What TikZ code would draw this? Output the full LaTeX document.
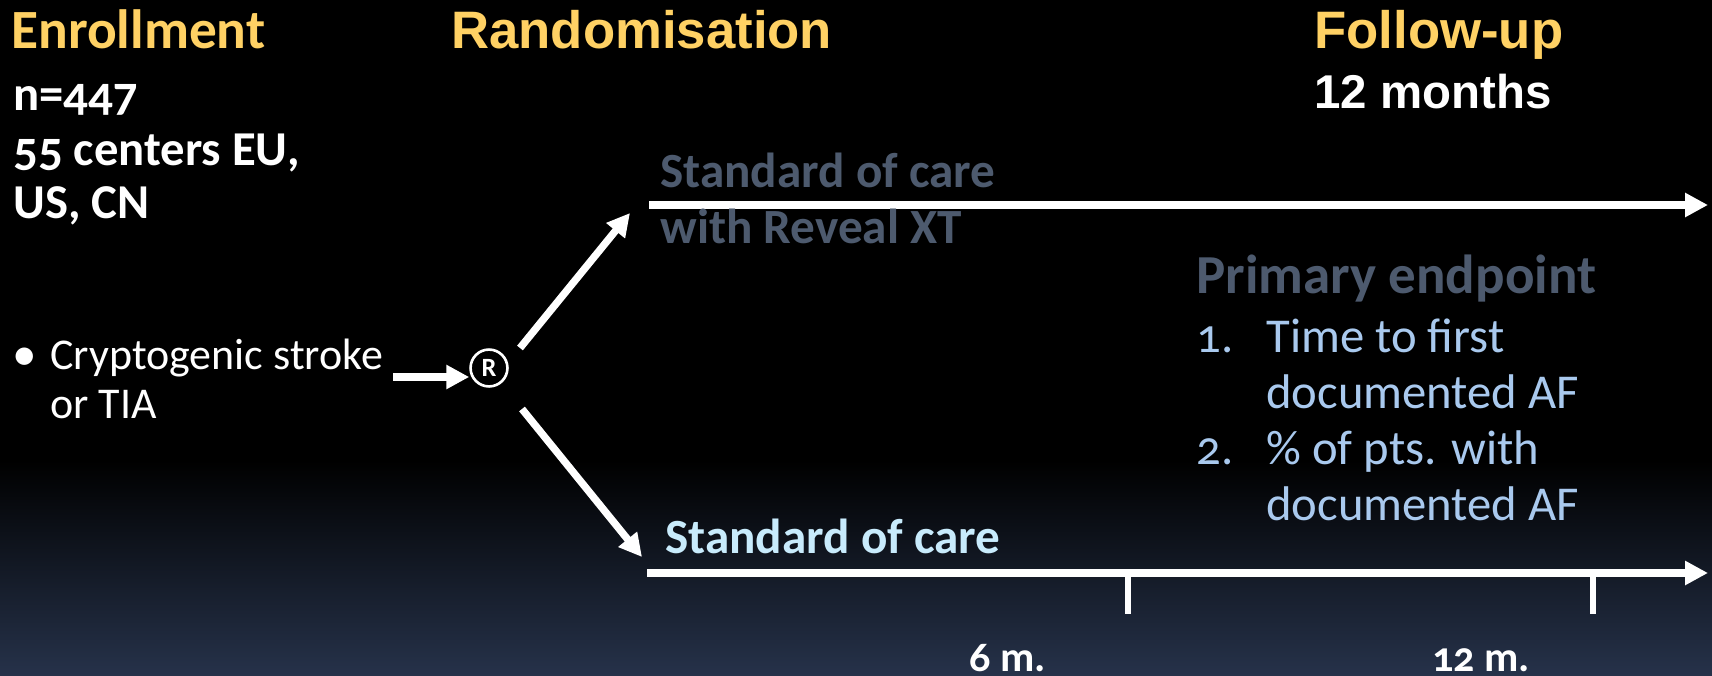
\documentclass[tikz,border=0pt]{standalone}
\usepackage{fontspec}
\setmainfont{Carlito}[Numbers=OldStyle]
\newfontfamily\arialfont{Liberation Sans}
\usetikzlibrary{arrows.meta}
\definecolor{headyellow}{HTML}{FFD164}
\definecolor{armgrey}{HTML}{4D5A6E}
\definecolor{armblue}{HTML}{C8EBFC}
\definecolor{listblue}{HTML}{A9C9EE}
\definecolor{bottomnavy}{HTML}{26324A}
\begin{document}
\begin{tikzpicture}[x=0.02cm,y=-0.02cm,
  every node/.style={inner sep=0pt,anchor=base west},
  headtext/.style={text=headyellow,font=\fontsize{31.5}{36}\selectfont\bfseries},
  headarial/.style={text=headyellow,font=\arialfont\fontsize{30}{36}\selectfont\bfseries},
  arialsub/.style={text=white,font=\arialfont\fontsize{27}{32}\selectfont\bfseries},
  infotext/.style={text=white,font=\fontsize{27.7}{32}\selectfont\bfseries},
  bodytext/.style={text=white,font=\fontsize{25}{30}\selectfont},
  armtext/.style={font=\fontsize{28}{32}\selectfont\bfseries},
  listtext/.style={text=listblue,font=\fontsize{27.7}{32}\selectfont},
  monthtext/.style={text=white,anchor=base,font=\fontsize{24}{28}\selectfont\bfseries},
  bigarrow/.style={draw=white,line width=4.2pt,-{Triangle[length=13pt,width=13pt]}},
  tickline/.style={draw=white,line width=3pt}]
% background
\useasboundingbox (0,0) rectangle (1712,676);
\fill[black] (0,0) rectangle (1712,461);
\shade[top color=black,bottom color=bottomnavy] (0,460) rectangle (1712,676);
% column heads
\node[headtext] (enroll) at (11,49) {Enrollment};
\node[headarial] (rando) at (451,49) {Randomisation};
\node[headarial] (follow) at (1314,49) {Follow-up};
\node[arialsub] (months) at (1314,108) {12 months};
\node[infotext] (npts) at (13,110) {n=447};
\node[infotext] (centers) at (13,165) {55 centers EU,};
\node[infotext] (region) at (13,218) {US, CN};
% inclusion
\node[bodytext,font=\fontsize{28}{30}\selectfont] (bullet) at (12,370) {•};
\node[bodytext] (crypto) at (50,369) {Cryptogenic stroke};
\node[bodytext] (tia) at (50,418) {or TIA};
\node[circle,draw=white,line width=1.5pt,minimum size=21pt,anchor=center,text=white,
  font=\fontsize{15}{15}\selectfont\bfseries] (rand) at (489,368) {R};
\coordinate (arrin) at (393,377);
\draw[bigarrow] (arrin) -- (arrin -| rand.west);
% arms
\coordinate (uptail) at (520,348);
\coordinate (uptip) at (630,213);
\coordinate (lowtail) at (522,409);
\coordinate (lowtip) at (642,557);
\draw[bigarrow] (uptail) -- (uptip);
\draw[bigarrow] (lowtail) -- (lowtip);
\coordinate (topL) at (649,205);
\coordinate (topR) at (1708,205);
\coordinate (lowL) at (647,573);
\coordinate (lowR) at (1708,573);
\draw[bigarrow] (topL) -- (topR);
\draw[bigarrow] (lowL) -- (lowR);
\node[armtext,text=armgrey] (armtop) at (660,187) {Standard of care};
\node[armtext,text=armgrey] (armtopb) at (660,243) {with Reveal XT};
\node[armtext,text=armblue] (armlow) at (665,553) {Standard of care};
% endpoints
\node[armtext,text=armgrey,font=\fontsize{31.3}{36}\selectfont\bfseries] (primary) at (1196,293) {Primary endpoint};
\node[listtext] (numone) at (1196,352) {1.};
\node[listtext] (itemone) at (1266,352) {Time to first};
\node[listtext] (itemoneb) at (1266,408) {documented AF};
\node[listtext] (numtwo) at (1196,464) {2.};
\node[listtext] (itemtwo) at (1266,464) {\% of pts. with};
\node[listtext] (itemtwob) at (1266,520) {documented AF};
% time marks
\coordinate (tick6) at (1128,573);
\coordinate (tick12) at (1593,573);
\draw[tickline] (tick6) -- ++(0,41);
\draw[tickline] (tick12) -- ++(0,41);
\node[monthtext] (six) at (1008,671) {6 m.};
\node[monthtext] (twelve) at (1481,671) {12 m.};
\end{tikzpicture}
\end{document}
